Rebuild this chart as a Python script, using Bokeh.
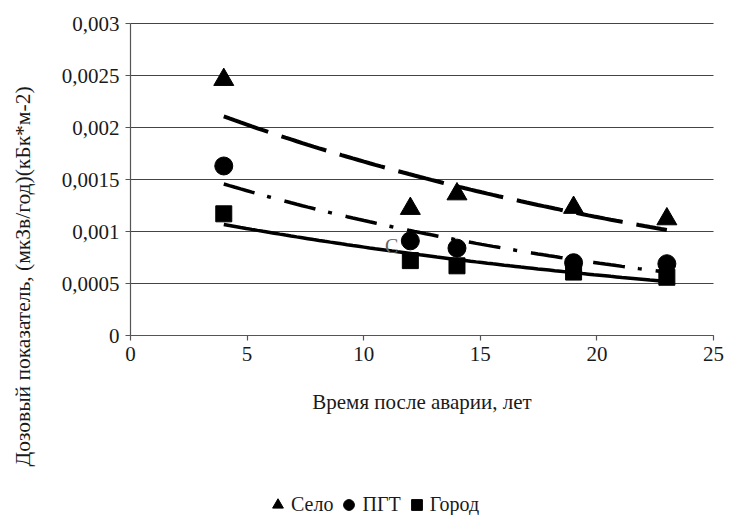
import numpy as np
from bokeh.plotting import figure
from bokeh.models import Range1d, FixedTicker, Label, Legend, LegendItem
from bokeh.embed import file_html
from bokeh.resources import INLINE

# ---- data ----
years = [4, 12, 14, 19, 23]
selo = [0.00246, 0.00122, 0.00136, 0.00123, 0.00112]
pgt = [0.00163, 0.00091, 0.00084, 0.00070, 0.00069]
gorod = [0.00117, 0.00072, 0.00067, 0.00061, 0.00056]
series_names = ["Село", "ПГТ", "Город"]
x_ticks = [0, 5, 10, 15, 20, 25]
y_ticks = [0, 0.0005, 0.001, 0.0015, 0.002, 0.0025, 0.003]
y_tick_labels = ["0", "0,0005", "0,001", "0,0015", "0,002", "0,0025", "0,003"]
x_title = "Время после аварии, лет"
y_title = "Дозовый показатель, (мкЗв/год)(кБк*м-2)"
stray_letter = "С"

FONT = "Liberation Serif"

# The frame covers the whole page; both axes are fixed at 0 so that tick
# labels, titles and the legend around the 0..25 x 0..0.003 area stay visible.
W, H = 730, 515
X_MIN, X_MAX, Y_MIN, Y_MAX = 0, 25, 0, 0.003
AREA_L, AREA_R, AREA_T, AREA_B = 130, 713, 23, 335   # pixel box of the data area
sx = (X_MAX - X_MIN) / (AREA_R - AREA_L)
sy = (Y_MAX - Y_MIN) / (AREA_B - AREA_T)
xr = Range1d(X_MIN - AREA_L * sx, X_MAX + (W - AREA_R) * sx)
yr = Range1d(Y_MIN - (H - AREA_B) * sy, Y_MAX + AREA_T * sy)

p = figure(frame_width=W, frame_height=H,
           min_border_left=0, min_border_right=0,
           min_border_top=0, min_border_bottom=0,
           x_range=xr, y_range=yr,
           output_backend="svg", toolbar_location=None)
p.outline_line_color = None
p.background_fill_color = "white"
p.border_fill_color = "white"

# axes
p.xaxis.ticker = FixedTicker(ticks=x_ticks)
p.yaxis.ticker = FixedTicker(ticks=y_ticks)
p.xaxis.bounds = (X_MIN, X_MAX)
p.yaxis.bounds = (Y_MIN, Y_MAX)
p.xaxis.fixed_location = Y_MIN
p.yaxis.fixed_location = X_MIN
p.yaxis.major_label_overrides = {t: l for t, l in zip(y_ticks, y_tick_labels)}
for ax in (p.xaxis[0], p.yaxis[0]):
    ax.major_label_text_font = FONT
    ax.major_label_text_font_size = "21px"
    ax.major_label_text_color = "#1a1a1a"
    ax.axis_line_color = "#555555"
    ax.axis_line_width = 1.2
    ax.major_tick_line_color = "#555555"
    ax.major_tick_line_width = 1.2
    ax.major_tick_in = 0
    ax.major_tick_out = 5
    ax.minor_tick_line_color = None
p.xaxis.major_label_standoff = 6
p.yaxis.major_label_standoff = 6
p.xaxis.axis_label = x_title
p.xaxis.axis_label_text_font = FONT
p.xaxis.axis_label_text_font_size = "21px"
p.xaxis.axis_label_text_font_style = "normal"
p.xaxis.axis_label_text_color = "#1a1a1a"
p.xaxis.axis_label_standoff = 26

# horizontal grid lines at the y ticks, only across the data area
p.xgrid.grid_line_color = None
p.ygrid.grid_line_color = None
p.segment(x0=[X_MIN] * len(y_ticks), x1=[X_MAX] * len(y_ticks),
          y0=y_ticks, y1=y_ticks, line_color="#444444", line_width=1.2)

# exponential trend lines fitted to the data
styles = [("47 14", 4), ("32 13 4 14", 3.5), ("solid", 3.5)]
xs = np.linspace(min(years), max(years), 80)
for vals, (dash, w) in zip([selo, pgt, gorod], styles):
    b, a = np.polyfit(years, np.log(vals), 1)
    p.line(xs, np.exp(a + b * xs), line_color="black", line_width=w, line_dash=dash)

r1 = p.scatter(years, selo, marker="triangle", size=20, color="black")
r2 = p.scatter(years, pgt, marker="circle", size=18, color="black")
r3 = p.scatter(years, gorod, marker="square", size=16, color="black")

# stray letter seen on the chart
p.add_layout(Label(x=11.2, y=0.00086, text=stray_letter, text_font=FONT,
                   text_font_size="20px", text_color="#666666",
                   text_align="center", text_baseline="middle"))

# y-axis title (centred lower than the data area, as in the reference)
p.add_layout(Label(x=22, y=H - 276, x_units="screen", y_units="screen",
                   text=y_title, angle=np.pi / 2,
                   text_font=FONT, text_font_size="21.5px", text_color="#1a1a1a",
                   text_align="center", text_baseline="middle"))

legend = Legend(items=[LegendItem(label=series_names[0], renderers=[r1]),
                       LegendItem(label=series_names[1], renderers=[r2]),
                       LegendItem(label=series_names[2], renderers=[r3])],
                orientation="horizontal", location=(264, -3),
                glyph_width=27, glyph_height=27, label_standoff=0, spacing=2,
                padding=0, margin=0, border_line_color=None,
                background_fill_alpha=0,
                label_text_font=FONT, label_text_font_size="20px",
                label_text_color="#1a1a1a")
p.add_layout(legend, "center")

open("out.html", "w").write(file_html(p, INLINE))
